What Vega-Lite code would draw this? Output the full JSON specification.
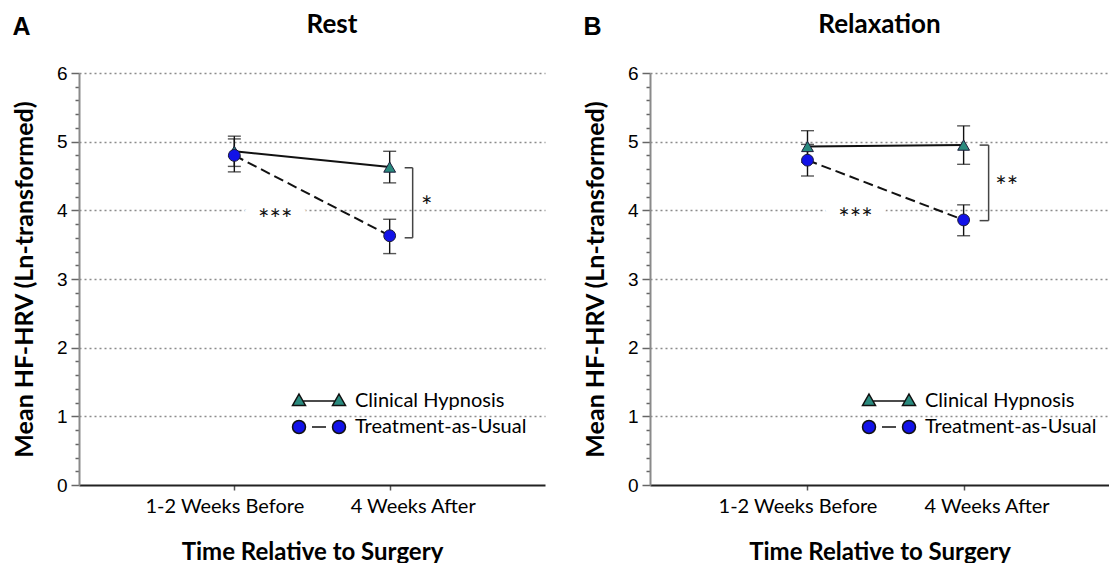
{
  "$schema": "https://vega.github.io/schema/vega-lite/v6.json",
  "padding": {"left": 12, "top": 12, "right": 0, "bottom": 0},
  "spacing": 38,
  "datasets": {
    "hrv": [
      {"panel": "Rest", "group": "Clinical Hypnosis", "time": "1-2 Weeks Before", "mean": 4.86, "lo": 4.64, "hi": 5.08},
      {"panel": "Rest", "group": "Clinical Hypnosis", "time": "4 Weeks After", "mean": 4.63, "lo": 4.40, "hi": 4.86},
      {"panel": "Rest", "group": "Treatment-as-Usual", "time": "1-2 Weeks Before", "mean": 4.80, "lo": 4.56, "hi": 5.04},
      {"panel": "Rest", "group": "Treatment-as-Usual", "time": "4 Weeks After", "mean": 3.63, "lo": 3.37, "hi": 3.87},
      {"panel": "Relaxation", "group": "Clinical Hypnosis", "time": "1-2 Weeks Before", "mean": 4.93, "lo": 4.70, "hi": 5.16},
      {"panel": "Relaxation", "group": "Clinical Hypnosis", "time": "4 Weeks After", "mean": 4.95, "lo": 4.67, "hi": 5.23},
      {"panel": "Relaxation", "group": "Treatment-as-Usual", "time": "1-2 Weeks Before", "mean": 4.73, "lo": 4.50, "hi": 4.96},
      {"panel": "Relaxation", "group": "Treatment-as-Usual", "time": "4 Weeks After", "mean": 3.86, "lo": 3.63, "hi": 4.08}
    ],
    "brackets": [
      {"panel": "Rest", "time": "4 Weeks After", "top": 4.62, "bottom": 3.60, "label": "*", "labelY": 4.15},
      {"panel": "Relaxation", "time": "4 Weeks After", "top": 4.95, "bottom": 3.85, "label": "**", "labelY": 4.44}
    ],
    "notes": [
      {"panel": "Rest", "time": "1-2 Weeks Before", "y": 3.96, "label": "***"},
      {"panel": "Relaxation", "time": "1-2 Weeks Before", "y": 3.97, "label": "***"}
    ]
  },
  "config": {
    "view": {"stroke": null},
    "font": "Lato",
    "title": {"font": "Lato", "fontSize": 26, "fontWeight": "bold", "color": "#000"},
    "axis": {"labelColor": "#000", "titleColor": "#000", "titleFont": "Lato", "titleFontWeight": "bold"},
    "axisY": {"labelFont": "Liberation Sans", "labelFontSize": 19, "titleFontSize": 25, "domainColor": "#8a8a8a", "domainWidth": 2, "tickColor": "#666", "tickWidth": 1.5, "labelPadding": 4, "titlePadding": 19, "gridColor": "#8c8c8c", "gridDash": [2, 3], "gridWidth": 1.3},
    "axisX": {"labelFont": "Lato", "labelFontSize": 20, "titleFontSize": 24, "domainColor": "#222", "domainWidth": 2, "tickColor": "#555", "tickWidth": 1.5, "tickSize": 5, "labelPadding": 6, "titlePadding": 24, "grid": false, "labelAngle": 0},
    "legend": {"title": null, "orient": "none", "symbolSize": 400, "symbolOpacity": 1, "symbolStrokeWidth": 1.5, "labelFont": "Lato", "labelFontSize": 20, "labelColor": "#000", "labelOffset": 25, "labelLimit": 400, "rowPadding": 5, "padding": 0}
  },
  "resolve": {"scale": {"fill": "independent", "shape": "independent"}},
  "hconcat": [
    {
      "title": {"text": "A", "anchor": "start", "frame": "bounds", "font": "Liberation Sans", "fontSize": 25, "fontWeight": "bold", "offset": 0, "dy": 28},
      "resolve": {"scale": {"fill": "independent", "shape": "independent"}},
      "vconcat": [
        {
          "title": {"text": "Rest", "offset": 26, "dx": 20},
          "width": 466,
          "height": 412,
          "layer": [
            {
              "data": {"name": "hrv"},
              "transform": [{"filter": "datum.panel === 'Rest'"}],
              "mark": {"type": "rule", "color": "#111", "strokeWidth": 1.4},
              "encoding": {
                "x": {"field": "time", "type": "nominal", "title": "Time Relative to Surgery", "scale": {"type": "point", "domain": ["1-2 Weeks Before", "4 Weeks After"], "padding": 1},
                  "axis": {"labelOffset": {"condition": {"test": "datum.value === '1-2 Weeks Before'", "value": -10}, "value": 23}}},
                "y": {"field": "lo", "type": "quantitative", "title": "Mean HF-HRV (Ln-transformed)", "scale": {"domain": [0, 6], "nice": false},
                  "axis": {"labelOverlap": false, "tickCount": 40,
                    "values": [0,0.2,0.4,0.6,0.8,1,1.2,1.4,1.6,1.8,2,2.2,2.4,2.6,2.8,3,3.2,3.4,3.6,3.8,4,4.2,4.4,4.6,4.8,5,5.2,5.4,5.6,5.8,6],
                    "labelExpr": "datum.value % 1 === 0 ? format(datum.value, 'd') : ''",
                    "tickSize": {"condition": {"test": "datum.value % 1 === 0", "value": 8}, "value": 4},
                    "gridOpacity": {"condition": {"test": "datum.value % 1 === 0 && datum.value > 0", "value": 1}, "value": 0}}},
                "y2": {"field": "hi"}
              }
            },
            {
              "data": {"name": "hrv"},
              "transform": [{"filter": "datum.panel === 'Rest'"}, {"fold": ["lo", "hi"], "as": ["bound", "val"]}],
              "mark": {"type": "tick", "orient": "horizontal", "size": 13, "thickness": 1.4, "color": "#111"},
              "encoding": {
                "x": {"field": "time", "type": "nominal", "title": "Time Relative to Surgery"},
                "y": {"field": "val", "type": "quantitative", "title": "Mean HF-HRV (Ln-transformed)"}
              }
            },
            {
              "data": {"name": "hrv"},
              "transform": [{"filter": "datum.panel === 'Rest' && datum.group === 'Clinical Hypnosis'"}],
              "mark": {"type": "line", "color": "#111", "strokeWidth": 2},
              "encoding": {
                "x": {"field": "time", "type": "nominal", "title": "Time Relative to Surgery"},
                "y": {"field": "mean", "type": "quantitative", "title": "Mean HF-HRV (Ln-transformed)"}
              }
            },
            {
              "data": {"name": "hrv"},
              "transform": [{"filter": "datum.panel === 'Rest' && datum.group === 'Treatment-as-Usual'"}],
              "mark": {"type": "line", "color": "#111", "strokeWidth": 2, "strokeDash": [10, 5]},
              "encoding": {
                "x": {"field": "time", "type": "nominal", "title": "Time Relative to Surgery"},
                "y": {"field": "mean", "type": "quantitative", "title": "Mean HF-HRV (Ln-transformed)"}
              }
            },
            {
              "data": {"name": "hrv"},
              "transform": [{"filter": "datum.panel === 'Rest'"}],
              "mark": {"type": "point", "filled": true, "stroke": "#111", "strokeWidth": 1.5, "opacity": 0},
              "encoding": {
                "x": {"field": "time", "type": "nominal", "title": "Time Relative to Surgery"},
                "y": {"field": "mean", "type": "quantitative", "title": "Mean HF-HRV (Ln-transformed)"},
                "fill": {"field": "group", "type": "nominal", "scale": {"domain": ["Clinical Hypnosis", "Treatment-as-Usual"], "range": ["#2a8a7e", "#1212e8"]},
                  "legend": {"legendX": 229, "legendY": 317}},
                "shape": {"field": "group", "type": "nominal", "scale": {"domain": ["Clinical Hypnosis", "Treatment-as-Usual"], "range": ["M-1.6,0L1.6,0M-2,-0.7L-1.35,0.45L-2.65,0.45ZM2,-0.7L2.65,0.45L1.35,0.45Z", "M-0.7,0L0.7,0M-2.65,0A0.65,0.65,0,1,0,-1.35,0A0.65,0.65,0,1,0,-2.65,0ZM1.35,0A0.65,0.65,0,1,0,2.65,0A0.65,0.65,0,1,0,1.35,0Z"]},
                  "legend": {"legendX": 229, "legendY": 317}}
              }
            },
            {
              "data": {"name": "hrv"},
              "transform": [{"filter": "datum.panel === 'Rest' && datum.group === 'Clinical Hypnosis'"}],
              "mark": {"type": "point", "filled": true, "shape": "triangle-up", "size": 140, "fill": "#2a8a7e", "stroke": "#1c1c3a", "strokeWidth": 1, "opacity": 1},
              "encoding": {
                "x": {"field": "time", "type": "nominal", "title": "Time Relative to Surgery"},
                "y": {"field": "mean", "type": "quantitative", "title": "Mean HF-HRV (Ln-transformed)"}
              }
            },
            {
              "data": {"name": "hrv"},
              "transform": [{"filter": "datum.panel === 'Rest' && datum.group === 'Treatment-as-Usual'"}],
              "mark": {"type": "point", "filled": true, "shape": "circle", "size": 140, "fill": "#1212e8", "stroke": "#1c1c3a", "strokeWidth": 1, "opacity": 1},
              "encoding": {
                "x": {"field": "time", "type": "nominal", "title": "Time Relative to Surgery"},
                "y": {"field": "mean", "type": "quantitative", "title": "Mean HF-HRV (Ln-transformed)"}
              }
            },
            {
              "data": {"name": "brackets"},
              "transform": [{"filter": "datum.panel === 'Rest'"}],
              "mark": {"type": "rule", "color": "#444", "strokeWidth": 1.5, "xOffset": 23},
              "encoding": {
                "x": {"field": "time", "type": "nominal", "title": "Time Relative to Surgery"},
                "y": {"field": "bottom", "type": "quantitative", "title": "Mean HF-HRV (Ln-transformed)"},
                "y2": {"field": "top"}
              }
            },
            {
              "data": {"name": "brackets"},
              "transform": [{"filter": "datum.panel === 'Rest'"}, {"fold": ["top", "bottom"], "as": ["end", "val"]}],
              "mark": {"type": "rule", "color": "#444", "strokeWidth": 1.5, "xOffset": 15, "x2Offset": 23},
              "encoding": {
                "x": {"field": "time", "type": "nominal", "title": "Time Relative to Surgery"},
                "x2": {"field": "time"},
                "y": {"field": "val", "type": "quantitative", "title": "Mean HF-HRV (Ln-transformed)"}
              }
            },
            {
              "data": {"name": "brackets"},
              "transform": [{"filter": "datum.panel === 'Rest'"}],
              "mark": {"type": "text", "font": "Lato", "fontSize": 27, "color": "#111", "dx": 37, "dy": 8, "baseline": "middle"},
              "encoding": {
                "x": {"field": "time", "type": "nominal", "title": "Time Relative to Surgery"},
                "y": {"field": "labelY", "type": "quantitative", "title": "Mean HF-HRV (Ln-transformed)"},
                "text": {"field": "label"}
              }
            },
            {
              "data": {"name": "notes"},
              "transform": [{"filter": "datum.panel === 'Rest'"}],
              "mark": {"type": "text", "font": "Lato", "fontSize": 27, "color": "#fff", "stroke": "#fff", "strokeWidth": 22, "dx": 41, "dy": 8, "baseline": "middle"},
              "encoding": {
                "x": {"field": "time", "type": "nominal", "title": "Time Relative to Surgery"},
                "y": {"field": "y", "type": "quantitative", "title": "Mean HF-HRV (Ln-transformed)"},
                "text": {"field": "label"}
              }
            },
            {
              "data": {"name": "notes"},
              "transform": [{"filter": "datum.panel === 'Rest'"}],
              "mark": {"type": "text", "font": "Lato", "fontSize": 27, "color": "#111", "dx": 41, "dy": 8, "baseline": "middle"},
              "encoding": {
                "x": {"field": "time", "type": "nominal", "title": "Time Relative to Surgery"},
                "y": {"field": "y", "type": "quantitative", "title": "Mean HF-HRV (Ln-transformed)"},
                "text": {"field": "label"}
              }
            }
          ]
        }
      ]
    },
    {
      "title": {"text": "B", "anchor": "start", "frame": "bounds", "font": "Liberation Sans", "fontSize": 25, "fontWeight": "bold", "offset": 0, "dy": 28},
      "resolve": {"scale": {"fill": "independent", "shape": "independent"}},
      "vconcat": [
        {
          "title": {"text": "Relaxation", "offset": 26},
          "width": 459,
          "height": 412,
          "layer": [
            {
              "data": {"name": "hrv"},
              "transform": [{"filter": "datum.panel === 'Relaxation'"}],
              "mark": {"type": "rule", "color": "#111", "strokeWidth": 1.4},
              "encoding": {
                "x": {"field": "time", "type": "nominal", "title": "Time Relative to Surgery", "scale": {"type": "point", "domain": ["1-2 Weeks Before", "4 Weeks After"], "padding": 0.97, "align": 0.52},
                  "axis": {"labelOffset": {"condition": {"test": "datum.value === '1-2 Weeks Before'", "value": -10}, "value": 23}}},
                "y": {"field": "lo", "type": "quantitative", "title": "Mean HF-HRV (Ln-transformed)", "scale": {"domain": [0, 6], "nice": false},
                  "axis": {"labelOverlap": false, "tickCount": 40,
                    "values": [0,0.2,0.4,0.6,0.8,1,1.2,1.4,1.6,1.8,2,2.2,2.4,2.6,2.8,3,3.2,3.4,3.6,3.8,4,4.2,4.4,4.6,4.8,5,5.2,5.4,5.6,5.8,6],
                    "labelExpr": "datum.value % 1 === 0 ? format(datum.value, 'd') : ''",
                    "tickSize": {"condition": {"test": "datum.value % 1 === 0", "value": 8}, "value": 4},
                    "gridOpacity": {"condition": {"test": "datum.value % 1 === 0 && datum.value > 0", "value": 1}, "value": 0}}},
                "y2": {"field": "hi"}
              }
            },
            {
              "data": {"name": "hrv"},
              "transform": [{"filter": "datum.panel === 'Relaxation'"}, {"fold": ["lo", "hi"], "as": ["bound", "val"]}],
              "mark": {"type": "tick", "orient": "horizontal", "size": 13, "thickness": 1.4, "color": "#111"},
              "encoding": {
                "x": {"field": "time", "type": "nominal", "title": "Time Relative to Surgery"},
                "y": {"field": "val", "type": "quantitative", "title": "Mean HF-HRV (Ln-transformed)"}
              }
            },
            {
              "data": {"name": "hrv"},
              "transform": [{"filter": "datum.panel === 'Relaxation' && datum.group === 'Clinical Hypnosis'"}],
              "mark": {"type": "line", "color": "#111", "strokeWidth": 2},
              "encoding": {
                "x": {"field": "time", "type": "nominal", "title": "Time Relative to Surgery"},
                "y": {"field": "mean", "type": "quantitative", "title": "Mean HF-HRV (Ln-transformed)"}
              }
            },
            {
              "data": {"name": "hrv"},
              "transform": [{"filter": "datum.panel === 'Relaxation' && datum.group === 'Treatment-as-Usual'"}],
              "mark": {"type": "line", "color": "#111", "strokeWidth": 2, "strokeDash": [10, 5]},
              "encoding": {
                "x": {"field": "time", "type": "nominal", "title": "Time Relative to Surgery"},
                "y": {"field": "mean", "type": "quantitative", "title": "Mean HF-HRV (Ln-transformed)"}
              }
            },
            {
              "data": {"name": "hrv"},
              "transform": [{"filter": "datum.panel === 'Relaxation'"}],
              "mark": {"type": "point", "filled": true, "stroke": "#111", "strokeWidth": 1.5, "opacity": 0},
              "encoding": {
                "x": {"field": "time", "type": "nominal", "title": "Time Relative to Surgery"},
                "y": {"field": "mean", "type": "quantitative", "title": "Mean HF-HRV (Ln-transformed)"},
                "fill": {"field": "group", "type": "nominal", "scale": {"domain": ["Clinical Hypnosis", "Treatment-as-Usual"], "range": ["#2a8a7e", "#1212e8"]},
                  "legend": {"legendX": 228, "legendY": 317}},
                "shape": {"field": "group", "type": "nominal", "scale": {"domain": ["Clinical Hypnosis", "Treatment-as-Usual"], "range": ["M-1.6,0L1.6,0M-2,-0.7L-1.35,0.45L-2.65,0.45ZM2,-0.7L2.65,0.45L1.35,0.45Z", "M-0.7,0L0.7,0M-2.65,0A0.65,0.65,0,1,0,-1.35,0A0.65,0.65,0,1,0,-2.65,0ZM1.35,0A0.65,0.65,0,1,0,2.65,0A0.65,0.65,0,1,0,1.35,0Z"]},
                  "legend": {"legendX": 228, "legendY": 317}}
              }
            },
            {
              "data": {"name": "hrv"},
              "transform": [{"filter": "datum.panel === 'Relaxation' && datum.group === 'Clinical Hypnosis'"}],
              "mark": {"type": "point", "filled": true, "shape": "triangle-up", "size": 140, "fill": "#2a8a7e", "stroke": "#1c1c3a", "strokeWidth": 1, "opacity": 1},
              "encoding": {
                "x": {"field": "time", "type": "nominal", "title": "Time Relative to Surgery"},
                "y": {"field": "mean", "type": "quantitative", "title": "Mean HF-HRV (Ln-transformed)"}
              }
            },
            {
              "data": {"name": "hrv"},
              "transform": [{"filter": "datum.panel === 'Relaxation' && datum.group === 'Treatment-as-Usual'"}],
              "mark": {"type": "point", "filled": true, "shape": "circle", "size": 140, "fill": "#1212e8", "stroke": "#1c1c3a", "strokeWidth": 1, "opacity": 1},
              "encoding": {
                "x": {"field": "time", "type": "nominal", "title": "Time Relative to Surgery"},
                "y": {"field": "mean", "type": "quantitative", "title": "Mean HF-HRV (Ln-transformed)"}
              }
            },
            {
              "data": {"name": "brackets"},
              "transform": [{"filter": "datum.panel === 'Relaxation'"}],
              "mark": {"type": "rule", "color": "#444", "strokeWidth": 1.5, "xOffset": 25},
              "encoding": {
                "x": {"field": "time", "type": "nominal", "title": "Time Relative to Surgery"},
                "y": {"field": "bottom", "type": "quantitative", "title": "Mean HF-HRV (Ln-transformed)"},
                "y2": {"field": "top"}
              }
            },
            {
              "data": {"name": "brackets"},
              "transform": [{"filter": "datum.panel === 'Relaxation'"}, {"fold": ["top", "bottom"], "as": ["end", "val"]}],
              "mark": {"type": "rule", "color": "#444", "strokeWidth": 1.5, "xOffset": 16, "x2Offset": 25},
              "encoding": {
                "x": {"field": "time", "type": "nominal", "title": "Time Relative to Surgery"},
                "x2": {"field": "time"},
                "y": {"field": "val", "type": "quantitative", "title": "Mean HF-HRV (Ln-transformed)"}
              }
            },
            {
              "data": {"name": "brackets"},
              "transform": [{"filter": "datum.panel === 'Relaxation'"}],
              "mark": {"type": "text", "font": "Lato", "fontSize": 27, "color": "#111", "dx": 43, "dy": 8, "baseline": "middle"},
              "encoding": {
                "x": {"field": "time", "type": "nominal", "title": "Time Relative to Surgery"},
                "y": {"field": "labelY", "type": "quantitative", "title": "Mean HF-HRV (Ln-transformed)"},
                "text": {"field": "label"}
              }
            },
            {
              "data": {"name": "notes"},
              "transform": [{"filter": "datum.panel === 'Relaxation'"}],
              "mark": {"type": "text", "font": "Lato", "fontSize": 27, "color": "#fff", "stroke": "#fff", "strokeWidth": 22, "dx": 48, "dy": 8, "baseline": "middle"},
              "encoding": {
                "x": {"field": "time", "type": "nominal", "title": "Time Relative to Surgery"},
                "y": {"field": "y", "type": "quantitative", "title": "Mean HF-HRV (Ln-transformed)"},
                "text": {"field": "label"}
              }
            },
            {
              "data": {"name": "notes"},
              "transform": [{"filter": "datum.panel === 'Relaxation'"}],
              "mark": {"type": "text", "font": "Lato", "fontSize": 27, "color": "#111", "dx": 48, "dy": 8, "baseline": "middle"},
              "encoding": {
                "x": {"field": "time", "type": "nominal", "title": "Time Relative to Surgery"},
                "y": {"field": "y", "type": "quantitative", "title": "Mean HF-HRV (Ln-transformed)"},
                "text": {"field": "label"}
              }
            }
          ]
        }
      ]
    }
  ]
}
